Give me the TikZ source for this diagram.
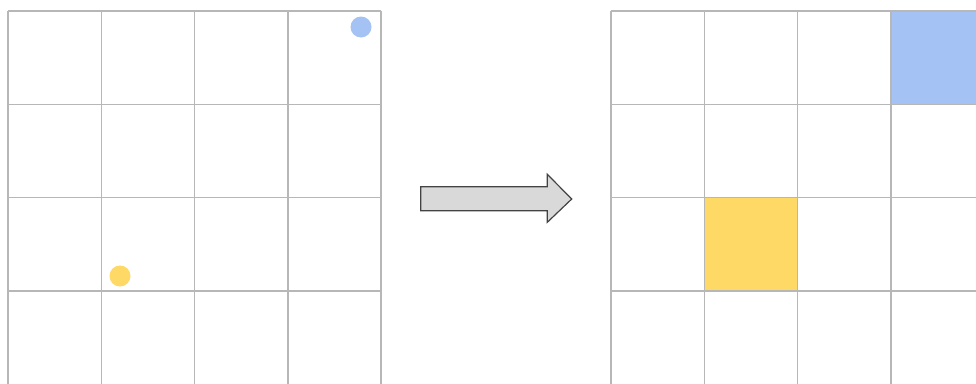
\documentclass[tikz,border=0pt]{standalone}
\usepackage{xcolor}
\usepackage{tikz}
\definecolor{gridgray}{HTML}{B7B7B7}
\definecolor{cellblue}{HTML}{A4C2F4}
\definecolor{cellyellow}{HTML}{FFD966}
\definecolor{arrowfill}{HTML}{D9D9D9}
\definecolor{arrowline}{HTML}{434343}

\begin{document}
\begin{tikzpicture}[
  x=1pt, y=-1pt,
  gridline/.style={draw=gridgray, line width=1.5pt},
  dot/.style={circle, inner sep=0pt, minimum size=21pt},
  bigarrow/.style={draw=arrowline, fill=arrowfill, line width=1.2pt, line join=miter}
]
\clip (0,0) rectangle (976,383);
\fill[white] (0,0) rectangle (976,383);

% filled cells on the right
\fill[cellblue] (890.9,11) rectangle (984.2,104.3);
\fill[cellyellow] (704.3,197.6) rectangle (797.6,290.9);

% the two grids
\foreach \xs in {8,611} {
  \foreach \i in {0,...,4}
    \draw[gridline] (\xs+93.3*\i,11) -- (\xs+93.3*\i,400);
  \foreach \j in {0,...,3}
    \draw[gridline] (\xs,11+93.3*\j) -- (\xs+373.2,11+93.3*\j);
}

% points on the left
\node[dot, fill=cellblue] (bluedot) at (361,27) {};
\node[dot, fill=cellyellow] (yellowdot) at (120,276) {};

% arrow between the grids
\draw[bigarrow] (420.7,186.7) -- (547.3,186.7) -- (547.3,174.3) -- (571.7,199)
  -- (547.3,222.3) -- (547.3,210.7) -- (420.7,210.7) -- cycle;
\end{tikzpicture}
\end{document}
